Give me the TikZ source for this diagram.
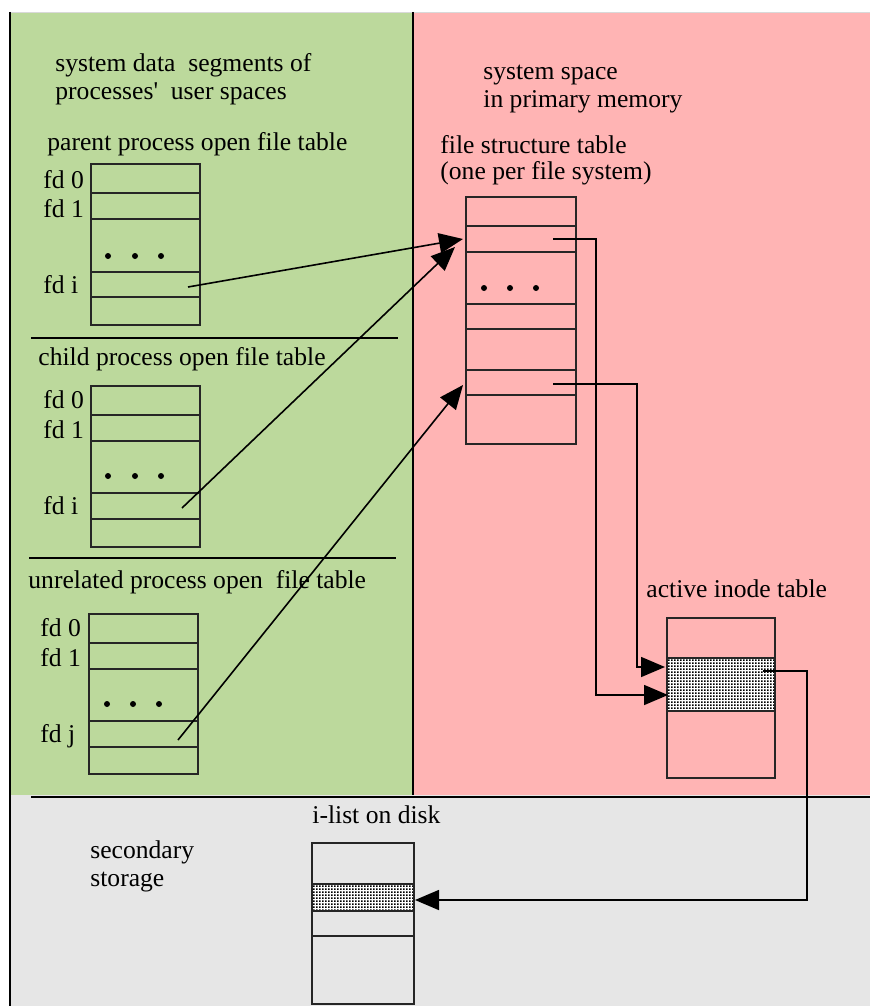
\documentclass[tikz,border=0pt]{standalone}
\usepackage{fontspec}
\setmainfont{Liberation Serif}
\usetikzlibrary{arrows.meta}
\usetikzlibrary{patterns}
\definecolor{userspace}{RGB}{188,217,156}
\definecolor{systemspace}{RGB}{255,180,180}
\definecolor{diskspace}{RGB}{230,230,230}
\pgfdeclarepatternformonly{inodedots}{\pgfpointorigin}{\pgfpoint{1.6pt}{1.6pt}}{\pgfpoint{1.6pt}{1.6pt}}{%
  \pgfpathrectangle{\pgfpointorigin}{\pgfpoint{1pt}{1pt}}\pgfusepath{fill}}
\tikzstyle{table line}=[line width=0.75pt, draw=black!85]
\tikzstyle{shaded row}=[table line, line width=1.4pt, preaction={fill=white}, pattern=inodedots]
\tikzstyle{link}=[line width=0.8pt]
\tikzstyle{link arrow}=[link, -{Triangle[length=12pt, width=10pt]}]
\tikzstyle{label}=[anchor=base west, inner sep=0pt, font=\fontsize{12.8}{15}\selectfont]
\tikzstyle{dot}=[fill, circle, inner sep=0pt, minimum size=3pt]

\begin{document}
\begin{tikzpicture}[x=0.5pt, y=-0.5pt]
      \useasboundingbox (0,0) rectangle (870,1006);
      % regions
      \fill[userspace] (10,12) rectangle (413,795);
      \fill[systemspace] (413,12) rectangle (870,795);
      \fill[diskspace] (10,795) rectangle (870,1006);
      \draw[black!15] (10,12) -- (870,12);
      \draw[link] (10,12) -- (10,1006);
      \draw[link] (413,12) -- (413,795);
      \draw[link] (31,797) -- (870,797);
      \draw[link] (31,338) -- (398,338);
      \draw[link] (29,558) -- (396,558);

      % region labels
      \node[label] (user text a) at (55,72) {system data\ \ segments of};
      \node[label] (user text b) at (55,100) {processes\textquotesingle\ \ user spaces};
      \node[label] (sys text a) at (483,80) {system space};
      \node[label] (sys text b) at (483,108) {in primary memory};
      \node[label] (disk text a) at (90,858) {secondary};
      \node[label] (disk text b) at (90,886) {storage};

      % parent process open file table
      \node[label] (parent title) at (47,150) {parent process open file table};
      \draw[table line] (91,164) rectangle (200,325);
      \foreach \y in {193,219,272,297}
        \draw[table line] (91,\y) -- (200,\y);
      \node[label] (parent fd0) at (43,188) {fd 0};
      \node[label] (parent fd1) at (43,217) {fd 1};
      \node[label] (parent fdi) at (43,293) {fd i};
      \foreach \x in {108,135,161}
        \node[dot] at (\x,256) {};
      \coordinate (parent fd i) at (188,287);

      % child process open file table
      \node[label] (child title) at (38,365) {child process open file table};
      \draw[table line] (91,386) rectangle (200,547);
      \foreach \y in {415,441,493,519}
        \draw[table line] (91,\y) -- (200,\y);
      \node[label] (child fd0) at (43,408) {fd 0};
      \node[label] (child fd1) at (43,438) {fd 1};
      \node[label] (child fdi) at (43,514) {fd i};
      \foreach \x in {108,135,161}
        \node[dot] at (\x,476) {};
      \coordinate (child fd i) at (182,508);

      % unrelated process open file table
      \node[label] (unrel title) at (28,588) {unrelated process open\ \ file table};
      \draw[table line] (89,614) rectangle (198,774);
      \foreach \y in {643,669,721,747}
        \draw[table line] (89,\y) -- (198,\y);
      \node[label] (unrel fd0) at (40,636) {fd 0};
      \node[label] (unrel fd1) at (40,666) {fd 1};
      \node[label] (unrel fdj) at (40,742) {fd j};
      \foreach \x in {107,133,159}
        \node[dot] at (\x,704) {};
      \coordinate (unrel fd j) at (178,740);

      % file structure table
      \node[label] (fst title a) at (440,154) {file structure table};
      \node[label] (fst title b) at (440,179) {(one per file system)};
      \draw[table line] (466,197) rectangle (576,444);
      \foreach \y in {226,252,304,329,370,395}
        \draw[table line] (466,\y) -- (576,\y);
      \foreach \x in {484,510,536}
        \node[dot] at (\x,288) {};
      \coordinate (fst in a) at (463,239);
      \coordinate (fst in b) at (455,247);
      \coordinate (fst in c) at (463,385);
      \coordinate (fst row a) at (553,239);
      \coordinate (fst row b) at (553,384);

      % active inode table
      \node[label] (inode title) at (646,597) {active inode table};
      \draw[table line] (667,618) rectangle (775,778);
      \draw[shaded row] (667,658) rectangle (775,711);
      \coordinate (inode in a) at (665,667);
      \coordinate (inode in b) at (668,695);
      \coordinate (inode out) at (763,671);

      % i-list on disk
      \node[label] (ilist title) at (312,823) {i-list on disk};
      \draw[table line] (312,843) rectangle (414,1004);
      \draw[shaded row] (312,884) rectangle (414,911);
      \draw[table line] (312,936) -- (414,936);
      \coordinate (ilist in) at (415,900);

      % connectors
      \draw[link arrow] (parent fd i) -- (fst in a);
      \draw[link arrow] (child fd i) -- (fst in b);
      \draw[link arrow] (unrel fd j) -- (fst in c);
      \draw[link arrow] (fst row a) -- (596,239) |- (inode in b);
      \draw[link arrow] (fst row b) -- (637,384) |- (inode in a);
      \draw[link arrow] (inode out) -- (807,671) |- (ilist in);
    \end{tikzpicture}
\end{document}
